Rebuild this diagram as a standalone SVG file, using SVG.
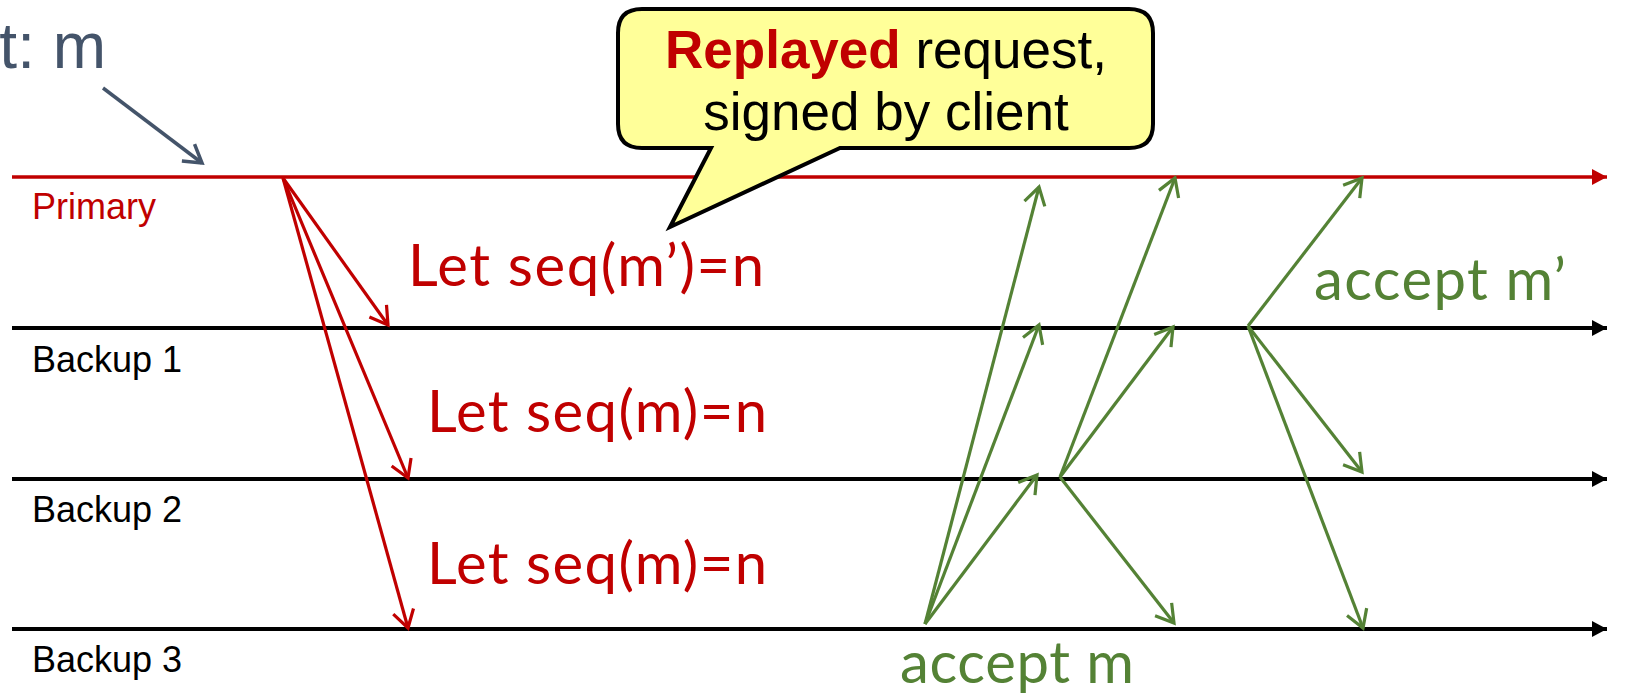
<svg xmlns="http://www.w3.org/2000/svg" width="1627" height="700" viewBox="0 0 1627 700">
  <style>
    .lane { stroke-width: 4; fill: none; }
    .msg-red { stroke: #C00000; stroke-width: 3.2; fill: none; marker-end: url(#vRed); }
    .msg-green { stroke: #548235; stroke-width: 3.2; fill: none; marker-end: url(#vGreen); }
    .label { font-family: "Liberation Sans", Arial, sans-serif; font-size: 36px; }
    .note { font-family: Lato, "Open Sans", sans-serif; font-size: 58px; }
    .callout-text { font-family: "Liberation Sans", Arial, sans-serif; font-size: 53px; fill: #000; text-anchor: middle; }
  </style>
  <defs>
    <marker id="headBlack" markerUnits="userSpaceOnUse" markerWidth="20" markerHeight="20" refX="15" refY="8" orient="auto">
      <path d="M0,0 L15,8 L0,16 Z" fill="#000"/>
    </marker>
    <marker id="headRed" markerUnits="userSpaceOnUse" markerWidth="20" markerHeight="20" refX="15" refY="8" orient="auto">
      <path d="M0,0 L15,8 L0,16 Z" fill="#C00000"/>
    </marker>
    <marker id="vRed" markerUnits="userSpaceOnUse" markerWidth="30" markerHeight="30" refX="20" refY="12" orient="auto" overflow="visible">
      <path d="M2.7,1.5 L20,12 L2.7,22.5" fill="none" stroke="#C00000" stroke-width="3.2" stroke-linejoin="miter"/>
    </marker>
    <marker id="vGreen" markerUnits="userSpaceOnUse" markerWidth="30" markerHeight="30" refX="20" refY="12" orient="auto" overflow="visible">
      <path d="M2.7,1.5 L20,12 L2.7,22.5" fill="none" stroke="#548235" stroke-width="3.2" stroke-linejoin="miter"/>
    </marker>
    <marker id="vSlate" markerUnits="userSpaceOnUse" markerWidth="30" markerHeight="30" refX="20" refY="12" orient="auto" overflow="visible">
      <path d="M2.7,1.5 L20,12 L2.7,22.5" fill="none" stroke="#44546A" stroke-width="3.5" stroke-linejoin="miter"/>
    </marker>
  </defs>

  <rect width="1627" height="700" fill="#fff"/>

  <!-- incoming client request -->
  <g id="client-request">
    <text x="106" y="68" font-family="'Liberation Sans', Arial, sans-serif" font-size="64" fill="#44546A" text-anchor="end">t: m</text>
  </g>

  <!-- process timelines -->
  <g id="primary">
    <line x1="12" y1="177" x2="1607" y2="177" stroke="#C00000" stroke-width="3.5" marker-end="url(#headRed)"/>
    <text class="label" x="32" y="219" fill="#C00000">Primary</text>
  </g>
  <g id="backup1">
    <line class="lane" x1="12" y1="328" x2="1607" y2="328" stroke="#000" marker-end="url(#headBlack)"/>
    <text class="label" x="32" y="372" fill="#000">Backup 1</text>
  </g>
  <g id="backup2">
    <line class="lane" x1="12" y1="479" x2="1607" y2="479" stroke="#000" marker-end="url(#headBlack)"/>
    <text class="label" x="32" y="522" fill="#000">Backup 2</text>
  </g>
  <g id="backup3">
    <line class="lane" x1="12" y1="629" x2="1607" y2="629" stroke="#000" marker-end="url(#headBlack)"/>
    <text class="label" x="32" y="672" fill="#000">Backup 3</text>
  </g>

  <!-- messages -->
  <g id="connectors">
    <line x1="103" y1="88" x2="202" y2="163" stroke="#44546A" stroke-width="3.5" marker-end="url(#vSlate)"/>

    <!-- pre-prepare from primary -->
    <line class="msg-red" x1="283" y1="178" x2="388" y2="325"/>
    <line class="msg-red" x1="283" y1="178" x2="408" y2="478"/>
    <line class="msg-red" x1="283" y1="178" x2="408" y2="628"/>

    <!-- replies from backup 3 -->
    <line class="msg-green" x1="925" y1="624" x2="1039" y2="187"/>
    <line class="msg-green" x1="925" y1="624" x2="1039" y2="325"/>
    <line class="msg-green" x1="925" y1="624" x2="1037" y2="475"/>

    <!-- replies from backup 2 -->
    <line class="msg-green" x1="1060" y1="477" x2="1175" y2="178"/>
    <line class="msg-green" x1="1060" y1="477" x2="1173" y2="327"/>
    <line class="msg-green" x1="1060" y1="477" x2="1174" y2="623"/>

    <!-- replies from backup 1 -->
    <line class="msg-green" x1="1248" y1="326" x2="1362" y2="178"/>
    <line class="msg-green" x1="1248" y1="326" x2="1362" y2="472"/>
    <line class="msg-green" x1="1248" y1="326" x2="1363" y2="628"/>
  </g>

  <!-- annotations -->
  <g id="seq-labels" fill="#C00000">
    <text class="note" x="408" y="286" textLength="356" lengthAdjust="spacing">Let seq(m’)=n</text>
    <text class="note" x="427" y="432" textLength="340" lengthAdjust="spacing">Let seq(m)=n</text>
    <text class="note" x="427" y="584" textLength="340" lengthAdjust="spacing">Let seq(m)=n</text>
  </g>
  <g id="accept-labels" fill="#548235">
    <text class="note" x="1314" y="300" textLength="252" lengthAdjust="spacing">accept m’</text>
    <text class="note" x="900" y="683" textLength="234" lengthAdjust="spacing">accept m</text>
  </g>

  <!-- speech-bubble callout -->
  <g id="callout">
    <path d="M642,9 L1129,9 Q1153,9 1153,33 L1153,124 Q1153,148 1129,148 L840,148 L670,227 L711,148 L642,148 Q618,148 618,124 L618,33 Q618,9 642,9 Z" fill="#FFFF99" stroke="#000" stroke-width="4" stroke-linejoin="miter"/>
    <text class="callout-text" x="886" y="68"><tspan font-weight="bold" fill="#C00000">Replayed</tspan> request,</text>
    <text class="callout-text" x="886" y="130">signed by client</text>
  </g>
</svg>
